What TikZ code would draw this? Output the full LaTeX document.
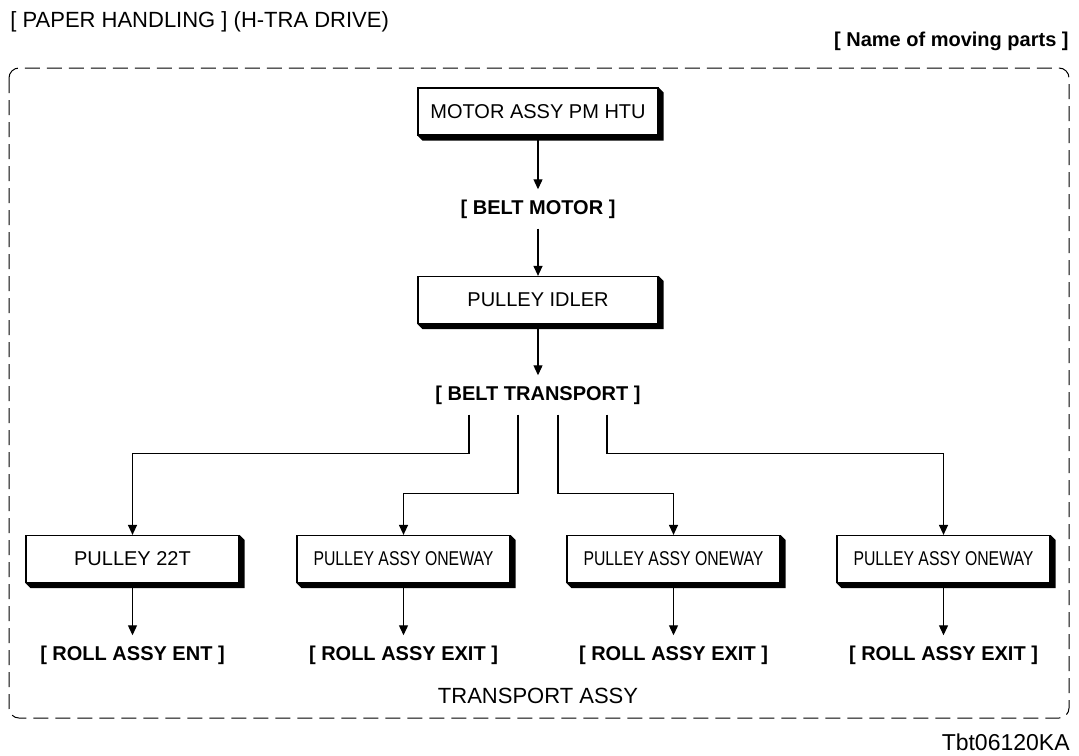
\documentclass[tikz,border=0pt]{standalone}
\usepackage{fontspec}
\setmainfont{Liberation Sans}
\usetikzlibrary{
    arrows.meta,
    positioning
}
\tikzset{
  part/.style  = {draw, fill=white, line width=0.6pt, minimum width=120pt,
                  minimum height=23.5pt, inner sep=0pt, font=\fontsize{10}{12}\selectfont},
  spart/.style = {part, minimum width=106.5pt},
  lbl/.style   = {inner xsep=2pt, inner ysep=5pt, font=\fontsize{10}{12}\selectfont\bfseries},
  arr/.style   = {-{Triangle[length=5pt,width=4.5pt]}, line width=0.6pt},
  frame/.style = {line width=0.5pt, dash pattern=on 7.5pt off 3.5pt, rounded corners=5pt}
}
% black 3d edge under a part box
\newcommand{\extrude}[1]{%
  \fill (#1.north east) -- ++(2.5pt,-2.5pt) -- ([shift={(2.5pt,-2.5pt)}]#1.south east)
    -- ([shift={(2.5pt,-2.5pt)}]#1.south west) -- (#1.south west) -- (#1.south east) -- cycle;}
\newcommand{\narrowtext}[1]{\scalebox{0.79}[1]{#1}}

\begin{document}
\begin{tikzpicture}[x=0.5pt, y=-0.5pt]
\useasboundingbox (0,0) rectangle (1079,755);
\node[anchor=west, inner sep=0pt, font=\fontsize{11}{13}\selectfont]
    (title) at (10,22) {[ PAPER HANDLING ] (H-TRA DRIVE)};
\node[anchor=east, inner sep=0pt, font=\fontsize{10}{12}\selectfont\bfseries]
    (key) at (1069,41) {[ Name of moving parts ]};
\draw[frame] (9,68) rectangle (1069,718);
\node[part]  (M)  at (538,111.5) {MOTOR ASSY PM HTU};
\node[lbl]   (BM) at (538,209)   {[ BELT MOTOR ]};
\node[part]  (PI) at (538,300)   {PULLEY IDLER};
\node[lbl]   (BT) at (538,395)   {[ BELT TRANSPORT ]};
\node[spart] (P1) at (132.5,559) {PULLEY 22T};
\node[spart] (P2) at (403.5,559) {\narrowtext{PULLEY ASSY ONEWAY}};
\node[spart] (P3) at (673.5,559) {\narrowtext{PULLEY ASSY ONEWAY}};
\node[spart] (P4) at (943.5,559) {\narrowtext{PULLEY ASSY ONEWAY}};
\node[lbl]   (R1) at (132.5,655) {[ ROLL ASSY ENT ]};
\node[lbl]   (R2) at (403.5,655) {[ ROLL ASSY EXIT ]};
\node[lbl]   (R3) at (673.5,655) {[ ROLL ASSY EXIT ]};
\node[lbl]   (R4) at (943.5,655) {[ ROLL ASSY EXIT ]};
\node[inner sep=0pt, font=\fontsize{11}{13}\selectfont]
    (TA) at (538,696) {TRANSPORT ASSY};
\node[anchor=east, inner sep=0pt, font=\fontsize{11.5}{13}\selectfont]
    (id) at (1070,742) {Tbt06120KA};
\extrude{M}
\extrude{PI}
\extrude{P1}
\extrude{P2}
\extrude{P3}
\extrude{P4}
\draw[arr] (M.south)  -- (BM.north);
\draw[arr] (BM.south) -- (PI.north);
\draw[arr] (PI.south) -- (BT.north);
\draw[arr] ([xshift=-34.5pt]BT.south) -- ++(0,-19.5pt) -| (P1.north);
\draw[arr] ([xshift=-10pt]BT.south)   -- ++(0,-39.5pt) -| (P2.north);
\draw[arr] ([xshift=10pt]BT.south)    -- ++(0,-39.5pt) -| (P3.north);
\draw[arr] ([xshift=34.5pt]BT.south)  -- ++(0,-19.5pt) -| (P4.north);
\draw[arr] (P1.south) -- (R1.north);
\draw[arr] (P2.south) -- (R2.north);
\draw[arr] (P3.south) -- (R3.north);
\draw[arr] (P4.south) -- (R4.north);
\end{tikzpicture}
\end{document}
